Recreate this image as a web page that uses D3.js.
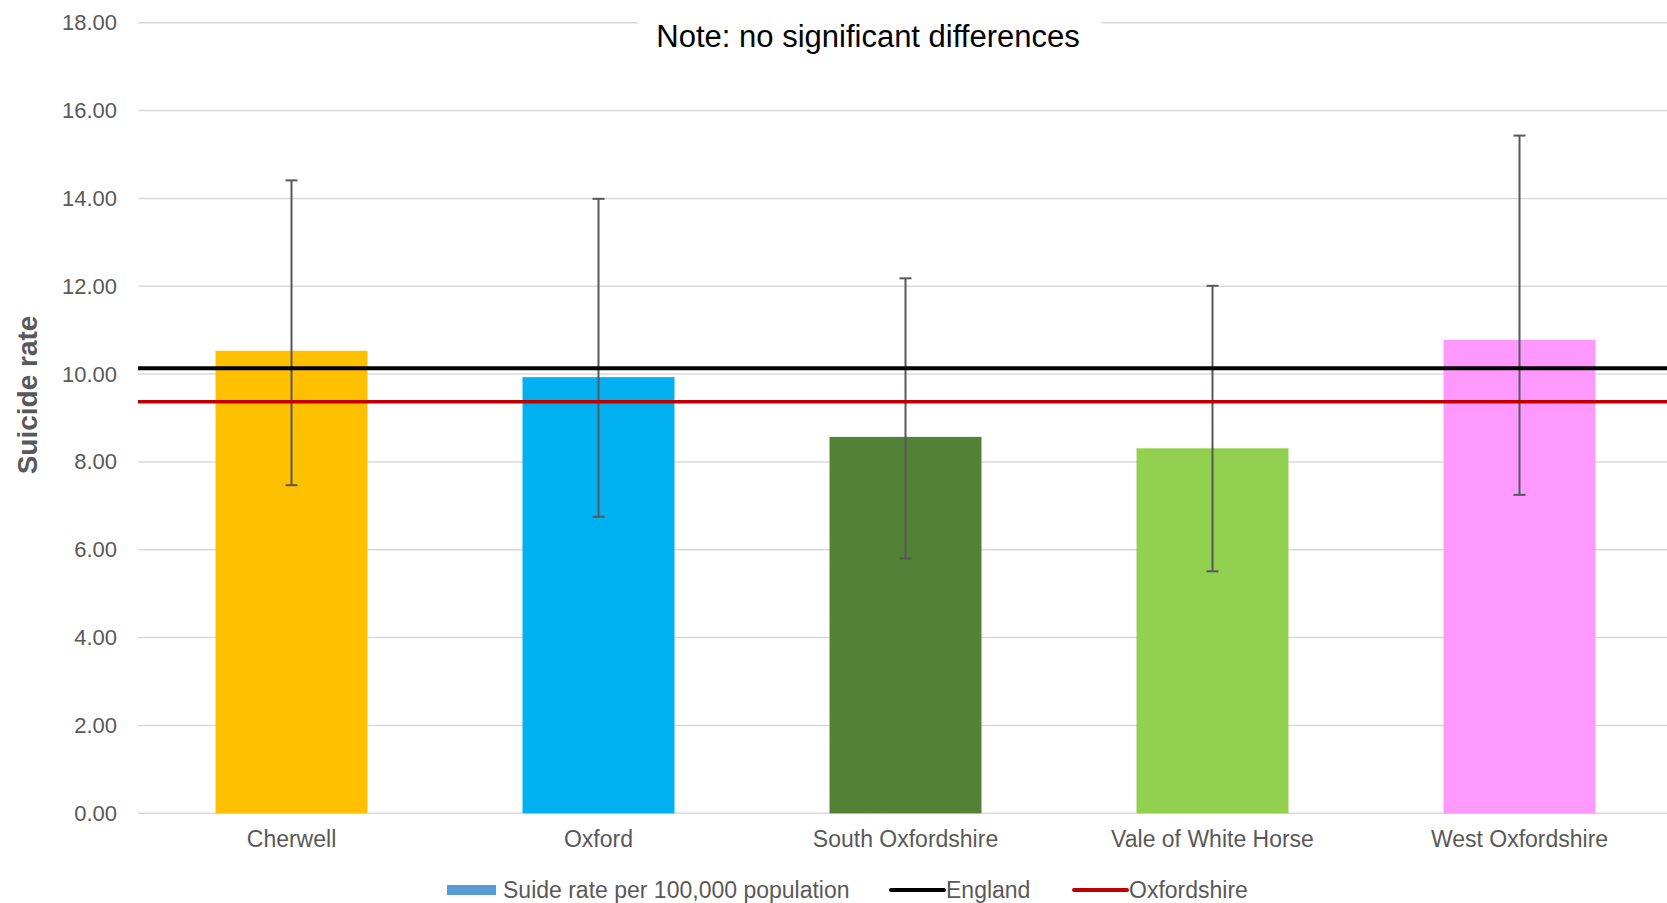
<!DOCTYPE html>
<html>
<head>
<meta charset="utf-8">
<script src="https://cdn.jsdelivr.net/npm/d3@7"></script>
<style>
  html, body { margin: 0; padding: 0; background: #fff; }
  svg { display: block; font-family: "Liberation Sans", Arial, sans-serif; }
</style>
</head>
<body>
<svg id="chart" width="1667" height="903"></svg>
<script>
const categories = ["Cherwell", "Oxford", "South Oxfordshire", "Vale of White Horse", "West Oxfordshire"];
const rates = [10.53, 9.93, 8.57, 8.31, 10.78];
const lowerCI = [7.47, 6.75, 5.80, 5.51, 7.25];
const upperCI = [14.41, 13.99, 12.18, 12.01, 15.43];
const barColors = ["#ffc000", "#00b0f0", "#538135", "#92d050", "#ff99ff"];
const englandRate = 10.13;
const oxfordshireRate = 9.37;
const yTicks = [0, 2, 4, 6, 8, 10, 12, 14, 16, 18];
const noteText = "Note: no significant differences";
const yTitle = "Suicide rate";
const legendItems = [
  { label: "Suide rate per 100,000 population", type: "rect", color: "#5b9bd5" },
  { label: "England", type: "line", color: "#000000" },
  { label: "Oxfordshire", type: "line", color: "#c00000" }
];

(function () {
const svg = d3.select("#chart");
const plotLeft = 138, plotRight = 1673, plotTop = 22.7, plotBottom = 813.3;

const x = d3.scaleBand().domain(categories).range([plotLeft, plotRight]).paddingInner(0.505).paddingOuter(0.2525);
const y = d3.scaleLinear().domain([0, 18]).range([plotBottom, plotTop]);

// gridlines
svg.append("g").selectAll("line").data(yTicks).join("line")
  .attr("x1", plotLeft).attr("x2", 1667)
  .attr("y1", d => y(d)).attr("y2", d => y(d))
  .attr("stroke", "#d9d9d9").attr("stroke-width", 1.5);

// y axis labels
const yAxis = d3.axisLeft(y).tickValues(yTicks).tickFormat(d3.format(".2f")).tickSize(0).tickPadding(0);
const ya = svg.append("g").attr("transform", `translate(117,0)`).call(yAxis);
ya.select(".domain").remove();
ya.selectAll("text").attr("fill", "#595959").style("font-size", "22px")
  .style("font-family", "Liberation Sans, Arial, sans-serif");

// x axis labels
const xAxis = d3.axisBottom(x).tickSize(0).tickPadding(0);
const xa = svg.append("g").attr("transform", `translate(0,${plotBottom + 17})`).call(xAxis);
xa.select(".domain").remove();
xa.selectAll("text").attr("fill", "#595959").style("font-size", "23px")
  .style("font-family", "Liberation Sans, Arial, sans-serif");

// bars
svg.append("g").selectAll("rect").data(categories).join("rect")
  .attr("x", d => x(d)).attr("width", x.bandwidth())
  .attr("y", (d, i) => y(rates[i])).attr("height", (d, i) => y(0) - y(rates[i]))
  .attr("fill", (d, i) => barColors[i]);

// error bars
const eb = svg.append("g").attr("stroke", "#595959").attr("stroke-width", 2);
categories.forEach((c, i) => {
  const cx = x(c) + x.bandwidth() / 2;
  eb.append("line").attr("x1", cx).attr("x2", cx).attr("y1", y(lowerCI[i])).attr("y2", y(upperCI[i]));
  eb.append("line").attr("x1", cx - 6).attr("x2", cx + 6).attr("y1", y(lowerCI[i])).attr("y2", y(lowerCI[i]));
  eb.append("line").attr("x1", cx - 6).attr("x2", cx + 6).attr("y1", y(upperCI[i])).attr("y2", y(upperCI[i]));
});

// reference lines
svg.append("line").attr("x1", plotLeft).attr("x2", 1667)
  .attr("y1", y(englandRate)).attr("y2", y(englandRate))
  .attr("stroke", "#000000").attr("stroke-width", 4);
svg.append("line").attr("x1", plotLeft).attr("x2", 1667)
  .attr("y1", y(oxfordshireRate)).attr("y2", y(oxfordshireRate))
  .attr("stroke", "#c00000").attr("stroke-width", 3.5);

// note
const noteG = svg.append("g");
const noteRect = noteG.append("rect").attr("fill", "#fff");
const note = noteG.append("text").attr("x", 868).attr("y", 47)
  .attr("text-anchor", "middle").attr("fill", "#000").style("font-size", "31px").text(noteText);
const bb = note.node().getBBox();
noteRect.attr("x", 638).attr("y", bb.y - 4).attr("width", 1101 - 638).attr("height", bb.height + 8);

// y title
svg.append("text").attr("transform", `translate(37,395) rotate(-90)`)
  .attr("text-anchor", "middle").attr("fill", "#595959")
  .style("font-size", "28px").style("font-weight", "bold").text(yTitle);

// legend
const legX = [447, 891, 1074];
const lg = svg.append("g");
legendItems.forEach((it, i) => {
  const g = lg.append("g").attr("transform", `translate(${legX[i]},890)`);
  let tx;
  if (it.type === "rect") {
    g.append("rect").attr("x", 0).attr("y", -5).attr("width", 49).attr("height", 10).attr("fill", it.color);
    tx = 56;
  } else {
    g.append("line").attr("x1", 0).attr("x2", 53).attr("y1", 0).attr("y2", 0)
      .attr("stroke", it.color).attr("stroke-width", 4).attr("stroke-linecap", "round");
    tx = 55;
  }
  g.append("text").attr("x", tx).attr("y", 8).attr("fill", "#595959").style("font-size", "23px").text(it.label);
});
})();
</script>
</body>
</html>
